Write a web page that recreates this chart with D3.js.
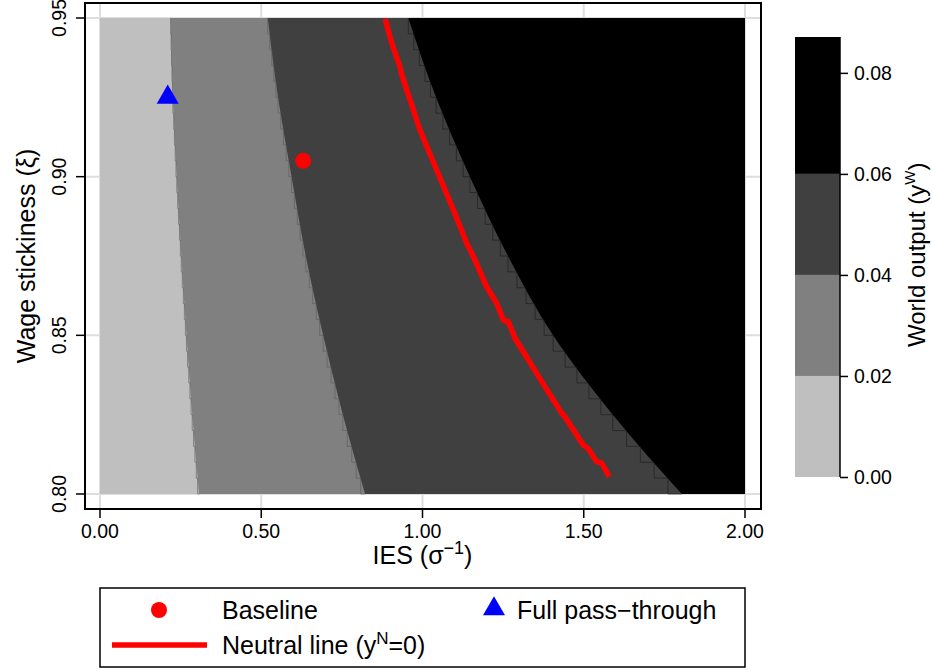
<!DOCTYPE html>
<html>
<head>
<meta charset="utf-8">
<script src="https://cdn.jsdelivr.net/npm/d3@7"></script>
<style>
  body { margin: 0; background: #fff; }
  text { font-family: "Liberation Sans", Arial, sans-serif; fill: #000; }
</style>
</head>
<body>
<div id="chart"></div>
<script>
// Contour boundaries: IES value where each level is crossed, per wage-stickiness row
const stickRows = [0.95, 0.925, 0.90, 0.875, 0.85, 0.825, 0.80];
const level002 = [0.219, 0.226, 0.238, 0.252, 0.268, 0.286, 0.307];
const level004 = [0.520, 0.552, 0.594, 0.638, 0.692, 0.753, 0.822];
const level006 = [0.956, 1.042, 1.147, 1.265, 1.405, 1.590, 1.804];

// Neutral line (y^N = 0)
const neutralIES = [0.884, 0.905, 0.930, 0.936, 0.946, 0.972, 0.992, 1.044, 1.096, 1.137, 1.158,
  1.199, 1.230, 1.251, 1.266, 1.287, 1.354, 1.432, 1.442, 1.499, 1.514, 1.540, 1.556, 1.579];
const neutralStick = [0.9497, 0.9420, 0.9347, 0.9320, 0.9289, 0.9210, 0.9147, 0.9021, 0.8895, 0.8790, 0.8748,
  0.8653, 0.8601, 0.8548, 0.8543, 0.8491, 0.8380, 0.8254, 0.8243, 0.8154, 0.8143, 0.8102, 0.8097, 0.8055];

const baseline = { ies: 0.63, stick: 0.905 };
const passThrough = { ies: 0.21, stick: 0.925 };

const xTicks = [0, 0.5, 1, 1.5, 2];
const yTicks = [0.80, 0.85, 0.90, 0.95];
const levelBreaks = [0, 0.02, 0.04, 0.06, 0.0871];
const levelColors = ["#bfbfbf", "#808080", "#404040", "#000000"];
const barTicks = [0, 0.02, 0.04, 0.06, 0.08];

const width = 932, height = 671;
const frame = { left: 85, top: 3, right: 761, bottom: 509 };

const x = d3.scaleLinear().domain([0, 2]).range([100, 745]);
const y = d3.scaleLinear().domain([0.80, 0.95]).range([494, 18]);

const svg = d3.select("#chart").append("svg")
  .attr("width", width)
  .attr("height", height);

// grid
svg.append("g").selectAll("line")
  .data(xTicks).enter().append("line")
  .attr("x1", d => x(d)).attr("x2", d => x(d))
  .attr("y1", frame.top).attr("y2", frame.bottom)
  .attr("stroke", "#dedede").attr("stroke-width", 2);
svg.append("g").selectAll("line")
  .data(yTicks).enter().append("line")
  .attr("x1", frame.left).attr("x2", frame.right)
  .attr("y1", d => y(d)).attr("y2", d => y(d))
  .attr("stroke", "#dedede").attr("stroke-width", 2);

// filled contour: base band then each higher band from its boundary to the right edge
svg.append("rect")
  .attr("x", x(0)).attr("y", y(0.95))
  .attr("width", x(2) - x(0)).attr("height", y(0.80) - y(0.95))
  .attr("fill", levelColors[0]);

const band = d3.area()
  .y(d => y(d[0]))
  .x0(d => x(d[1]))
  .x1(x(2))
  .curve(d3.curveMonotoneY);

[level002, level004, level006].forEach((lev, i) => {
  const pts = stickRows.map((s, j) => [s, lev[j]]);
  svg.append("path")
    .attr("d", band(pts))
    .attr("fill", levelColors[i + 1]);
  // faint stair-step edge left by the contour grid
  const stepLine = d3.line()
    .x(d => x(d[1]))
    .y(d => y(d[0]))
    .curve(d3.curveStepBefore);
  const fine = d3.range(0, 31).map(k => {
    const s = 0.95 - k * 0.005;
    const ix = d3.scaleLinear().domain(stickRows).range(lev);
    return [s, ix(s)];
  });
  svg.append("path")
    .attr("d", stepLine(fine))
    .attr("fill", "none")
    .attr("stroke", i === 2 ? "#1a1a1a" : "#5a5a5a")
    .attr("stroke-opacity", 0.6)
    .attr("stroke-width", 1);
});

// neutral line
const neutral = neutralIES.map((v, i) => [v, neutralStick[i]]);
svg.append("path")
  .datum(neutral)
  .attr("d", d3.line().x(d => x(d[0])).y(d => y(d[1])))
  .attr("fill", "none")
  .attr("stroke", "#ff0000")
  .attr("stroke-width", 5.5)
  .attr("stroke-linejoin", "round");

// markers
svg.append("circle")
  .attr("cx", x(baseline.ies)).attr("cy", y(baseline.stick))
  .attr("r", 8).attr("fill", "#ff0000");
const tri = d3.symbol().type(d3.symbolTriangle).size(210);
svg.append("path")
  .attr("d", tri())
  .attr("transform", `translate(${x(passThrough.ies)},${y(passThrough.stick)})`)
  .attr("fill", "#0000ff");

// frame
svg.append("rect")
  .attr("x", frame.left).attr("y", frame.top)
  .attr("width", frame.right - frame.left).attr("height", frame.bottom - frame.top)
  .attr("fill", "none").attr("stroke", "#000").attr("stroke-width", 2);

// x axis
const xAxis = svg.append("g");
xAxis.selectAll("line").data(xTicks).enter().append("line")
  .attr("x1", d => x(d)).attr("x2", d => x(d))
  .attr("y1", frame.bottom).attr("y2", frame.bottom + 9)
  .attr("stroke", "#000").attr("stroke-width", 1.5);
xAxis.selectAll("text").data(xTicks).enter().append("text")
  .attr("x", d => x(d)).attr("y", 538)
  .attr("text-anchor", "middle")
  .attr("font-size", "19.5px")
  .text(d => d3.format(".2f")(d));

const xTitle = svg.append("text")
  .attr("x", x(1)).attr("y", 564)
  .attr("text-anchor", "middle")
  .attr("font-size", "25px");
xTitle.append("tspan").text("IES (σ");
xTitle.append("tspan").attr("font-size", "18px").attr("dy", -10).text("−1");
xTitle.append("tspan").attr("dy", 10).text(")");

// y axis
const yAxis = svg.append("g");
yAxis.selectAll("line").data(yTicks).enter().append("line")
  .attr("x1", frame.left - 9).attr("x2", frame.left)
  .attr("y1", d => y(d)).attr("y2", d => y(d))
  .attr("stroke", "#000").attr("stroke-width", 1.5);
yAxis.selectAll("text").data(yTicks).enter().append("text")
  .attr("transform", d => `translate(66,${y(d)}) rotate(-90)`)
  .attr("text-anchor", "middle")
  .attr("font-size", "19.5px")
  .text(d => d3.format(".2f")(d));

svg.append("text")
  .attr("transform", `translate(35,${y(0.875)}) rotate(-90)`)
  .attr("text-anchor", "middle")
  .attr("font-size", "25px")
  .text("Wage stickiness (ξ)");

// colour bar
const bar = d3.scaleLinear().domain([0, 0.0871]).range([477, 37]);
svg.append("g").selectAll("rect")
  .data(levelColors).enter().append("rect")
  .attr("x", 795).attr("width", 45)
  .attr("y", (d, i) => bar(levelBreaks[i + 1]))
  .attr("height", (d, i) => bar(levelBreaks[i]) - bar(levelBreaks[i + 1]))
  .attr("fill", d => d);

svg.append("g")
  .attr("transform", "translate(840,0)")
  .call(d3.axisRight(bar).tickValues(barTicks).tickSize(8).tickPadding(6).tickFormat(d3.format(".2f")))
  .call(g => g.select(".domain").attr("d", `M0,${bar(0)}V${bar(0.0871)}`).attr("stroke-width", 1.5))
  .call(g => g.selectAll(".tick line").attr("stroke-width", 1.5))
  .call(g => g.selectAll(".tick text").attr("font-size", "19.5px").attr("font-family", "Liberation Sans, Arial, sans-serif"));

const barTitle = svg.append("text")
  .attr("transform", `translate(925,${bar(0.044)}) rotate(-90)`)
  .attr("text-anchor", "middle")
  .attr("font-size", "24px");
barTitle.append("tspan").text("World output (y");
barTitle.append("tspan").attr("font-size", "15px").attr("dy", -10).text("W");
barTitle.append("tspan").attr("dy", 10).text(")");

// legend
const legend = svg.append("g");
legend.append("rect")
  .attr("x", 100).attr("y", 588).attr("width", 645).attr("height", 79)
  .attr("fill", "#fff").attr("stroke", "#000").attr("stroke-width", 1.5);
legend.append("circle").attr("cx", 159).attr("cy", 610).attr("r", 8).attr("fill", "#ff0000");
legend.append("text").attr("x", 222).attr("y", 619).attr("font-size", "25px").text("Baseline");
legend.append("path")
  .attr("d", tri())
  .attr("transform", "translate(494,609)")
  .attr("fill", "#0000ff");
legend.append("text").attr("x", 517).attr("y", 619).attr("font-size", "25px").text("Full pass−through");
legend.append("line")
  .attr("x1", 112).attr("x2", 207).attr("y1", 645).attr("y2", 645)
  .attr("stroke", "#ff0000").attr("stroke-width", 5.5);
const neutralLabel = legend.append("text").attr("x", 222).attr("y", 654).attr("font-size", "25px");
neutralLabel.append("tspan").text("Neutral line (y");
neutralLabel.append("tspan").attr("font-size", "17px").attr("dy", -10).text("N");
neutralLabel.append("tspan").attr("dy", 10).text("=0)");
</script>
</body>
</html>
